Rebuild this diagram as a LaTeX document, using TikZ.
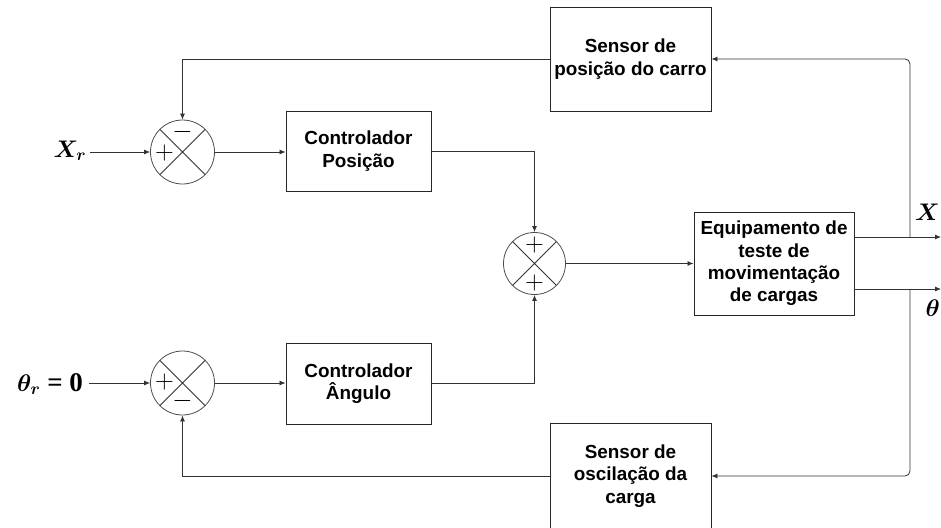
\documentclass[tikz,border=0pt]{standalone}
\usepackage{fix-cm}
\usepackage{bm}
\usepackage[no-math]{fontspec}
\setmainfont{Liberation Sans}
\newfontfamily\lserif{Liberation Serif}
\usetikzlibrary{arrows.meta,calc}
\begin{document}
\begin{tikzpicture}[x=1pt,y=-1pt,
  line/.style={draw=black!80, line width=0.8pt},
  arr/.style={line, -{Latex[length=6pt,width=5pt]}},
  blk/.style={draw=black!85, line width=0.9pt, fill=white, align=center,
    font=\bfseries\fontsize{18.9}{22.4}\selectfont, inner sep=0pt},
  sumnode/.style={circle, draw=black!70, line width=0.8pt, minimum size=64pt, inner sep=0pt,
    path picture={\draw[black!80, line width=0.8pt]
      (path picture bounding box.north west) -- (path picture bounding box.south east)
      (path picture bounding box.north east) -- (path picture bounding box.south west);}},
  sgn/.style={inner sep=0pt, font=\fontsize{26}{26}\selectfont},
  lbl/.style={inner sep=0pt, font=\fontsize{24}{28}\selectfont}
]
\useasboundingbox (0,0) rectangle (941,527);
% blocks
\node[blk, minimum width=161pt, minimum height=104pt] (sp) at (630.5,59) {Sensor de\\posição do carro};
\node[blk, minimum width=161pt, minimum height=106pt] (so) at (630.5,476) {Sensor de\\oscilação da\\carga};
\node[blk, minimum width=145pt, minimum height=80pt] (cp) at (358.5,151) {Controlador\\Posição};
\node[blk, minimum width=145pt, minimum height=81pt] (ca) at (358.5,383.5) {Controlador\\Ângulo};
\node[blk, minimum width=160pt, minimum height=103pt] (eq) at (774,263.5) {Equipamento de\\teste de\\movimentação\\de cargas};
% summing junctions
\node[sumnode] (s1) at (182.5,152) {};
\node[sumnode] (s2) at (182.5,383) {};
\node[sumnode, minimum size=62pt] (s3) at (534.5,263.5) {};
\node[sgn] (s1m) at ($(s1)+(0,-20)$) {$-$};
\node[sgn] (s1p) at ($(s1)+(-18,1)$) {$+$};
\node[sgn] (s2p) at ($(s2)+(-18,-1)$) {$+$};
\node[sgn] (s2m) at ($(s2)+(0,18)$) {$-$};
\node[sgn] (s3a) at ($(s3)+(0,-19)$) {$+$};
\node[sgn] (s3b) at ($(s3)+(0,19)$) {$+$};
% labels
\node[lbl, anchor=base] (xr) at (70,157) {$\bm{X_r}$};
\node[lbl, anchor=base] (tr) at (50,391) {$\bm{\theta_r}${\lserif\bfseries\fontsize{27}{28}\selectfont\ = 0}};
\node[lbl, anchor=base east] (xo) at (940,220) {$\bm{X}$};
\node[lbl, anchor=base east] (to) at (940,316) {$\bm{\theta}$};
% coordinates
\coordinate (bx) at (910,237);
\coordinate (bt) at (910,289);
\coordinate (ox) at (941,237);
\coordinate (ot) at (941,289);
% connectors
\draw[arr] ([xshift=3pt]xr.east |- s1.west) -- (s1.west);
\draw[arr] ([xshift=6pt]tr.east |- s2.west) -- (s2.west);
\draw[arr] (s1.east) -- (s1.east -| cp.west);
\draw[arr] (s2.east) -- (s2.east -| ca.west);
\draw[arr] (cp.east) -| (s3.north);
\draw[arr] (ca.east) -| (s3.south);
\draw[arr] (s3.east) -- (s3.east -| eq.west);
\draw[arr] (eq.east |- bx) -- (ox);
\draw[arr] (eq.east |- bt) -- (ot);
\draw[arr, rounded corners=5pt] (bx) |- (sp.east);
\draw[arr, rounded corners=5pt] (bt) |- (so.east);
\draw[arr] (sp.west) -| (s1.north);
\draw[arr] (so.west) -| (s2.south);
\end{tikzpicture}
\end{document}
